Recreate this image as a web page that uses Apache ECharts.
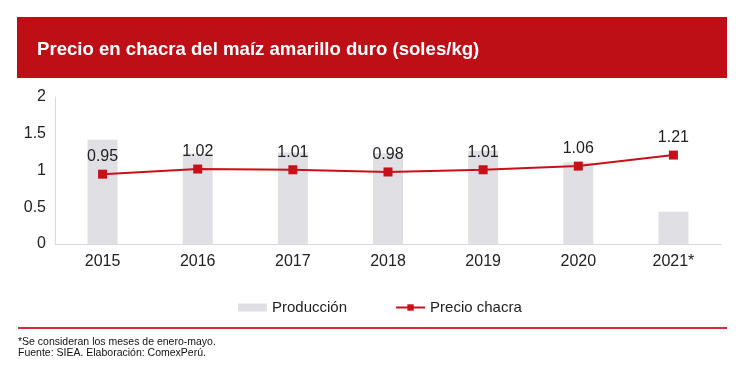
<!DOCTYPE html>
<html><head><meta charset="utf-8">
<script src="https://cdn.jsdelivr.net/npm/echarts@6/dist/echarts.min.js"></script>
<style>html,body{margin:0;padding:0;background:#fff}#c{width:741px;height:369px}</style>
</head><body><div id="c"></div>
<script>
const categories = ['2015','2016','2017','2018','2019','2020','2021*'];
const produccion = [1.42, 1.23, 1.245, 1.235, 1.27, 1.11, 0.44];
const precio = [0.95, 1.02, 1.01, 0.98, 1.01, 1.06, 1.21];
const yTicks = {min: 0, max: 2, interval: 0.5};

const chart = echarts.init(document.getElementById('c'), null, {renderer: 'canvas'});
const font = 'Liberation Sans, Arial, sans-serif';
chart.setOption({
  animation: false,
  graphic: [
    {type: 'rect', shape: {x: 17, y: 17, width: 710, height: 61}, style: {fill: '#BE0F17'}},
    {type: 'text', left: 37, top: 40, style: {text: 'Precio en chacra del maíz amarillo duro (soles/kg)', fill: '#fff', font: 'bold 18.6px ' + font}},
    {type: 'rect', shape: {x: 18, y: 327, width: 709, height: 2}, style: {fill: '#D42B35'}},
    {type: 'text', left: 18, top: 337, style: {text: '*Se consideran los meses de enero-mayo.\nFuente: SIEA. Elaboración: ComexPerú.', fill: '#111', font: '10.5px ' + font, lineHeight: 11}}
  ],
  grid: {left: 55, right: 20, top: 97, bottom: 125},
  legend: {
    left: 233, top: 295, itemWidth: 29, itemHeight: 8, itemGap: 48, itemTextGap: 4,
    textStyle: {fontFamily: font, fontSize: 15, color: '#222'},
    data: [{name: 'Producción', icon: 'rect'}, {name: 'Precio chacra'}]
  },
  xAxis: {
    type: 'category', data: categories,
    axisLine: {lineStyle: {color: '#d9d9d9'}},
    axisTick: {length: 5, lineStyle: {color: '#d9d9d9'}},
    axisLabel: {fontFamily: font, fontSize: 16, color: '#222', margin: 10}
  },
  yAxis: {
    type: 'value', min: yTicks.min, max: yTicks.max, interval: yTicks.interval,
    axisLine: {show: true, lineStyle: {color: '#d9d9d9'}},
    axisTick: {show: false},
    splitLine: {show: false},
    axisLabel: {fontFamily: font, fontSize: 16, color: '#222', margin: 9}
  },
  series: [
    {name: 'Producción', type: 'bar', data: produccion, barWidth: 30,
     itemStyle: {color: '#E0E0E4'}},
    {name: 'Precio chacra', type: 'line', data: precio, symbol: 'rect', symbolSize: 9,
     lineStyle: {color: '#C8101A', width: 2}, itemStyle: {color: '#C8101A'},
     label: {show: true, position: 'top', distance: 5, formatter: p => p.value.toFixed(2),
       fontFamily: font, fontSize: 16, color: '#222'}}
  ]
});
</script></body></html>
